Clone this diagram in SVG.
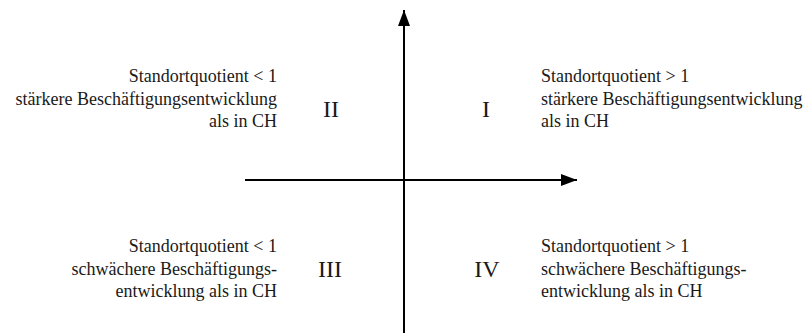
<svg xmlns="http://www.w3.org/2000/svg" width="807" height="333" viewBox="0 0 807 333">
<defs>
<style>
.t{font-family:"Liberation Serif","Times New Roman",serif;font-size:18px;fill:#1a1a1a}
.r{text-anchor:end}
.n{font-family:"Liberation Serif","Times New Roman",serif;font-size:24px;fill:#1a1a1a;text-anchor:middle}
.ax{stroke:#000;stroke-width:2;fill:none}
</style>
<marker id="ah" viewBox="0 0 16 12" refX="16" refY="6" markerWidth="16" markerHeight="12" markerUnits="userSpaceOnUse" orient="auto">
<path d="M0,0 L16,6 L0,12 Z" fill="#000"/>
</marker>
</defs>
<rect width="807" height="333" fill="#fff"/>
<g id="connectors">
<line class="ax" x1="404" y1="333" x2="404" y2="10" marker-end="url(#ah)"/>
<line class="ax" x1="245" y1="180" x2="577" y2="180" marker-end="url(#ah)"/>
</g>
<g id="q2">
<text class="n" x="331" y="117">II</text>
<text class="t r" x="277" y="82">Standortquotient &lt; 1</text>
<text class="t r" x="277" y="105">stärkere Beschäftigungsentwicklung</text>
<text class="t r" x="277" y="127">als in CH</text>
</g>
<g id="q1">
<text class="n" x="486" y="117">I</text>
<text class="t" x="541" y="82">Standortquotient &gt; 1</text>
<text class="t" x="541" y="105">stärkere Beschäftigungsentwicklung</text>
<text class="t" x="541" y="127">als in CH</text>
</g>
<g id="q3">
<text class="n" x="330" y="277">III</text>
<text class="t r" x="277" y="252">Standortquotient &lt; 1</text>
<text class="t r" x="277" y="275">schwächere Beschäftigungs-</text>
<text class="t r" x="277" y="297">entwicklung als in CH</text>
</g>
<g id="q4">
<text class="n" x="487" y="277">IV</text>
<text class="t" x="541" y="252">Standortquotient &gt; 1</text>
<text class="t" x="541" y="275">schwächere Beschäftigungs-</text>
<text class="t" x="541" y="297">entwicklung als in CH</text>
</g>
</svg>
